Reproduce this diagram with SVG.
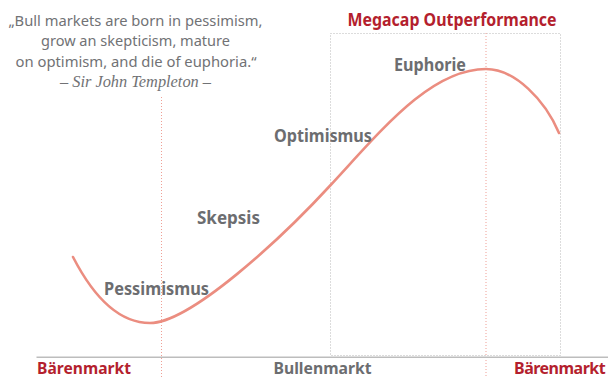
<svg xmlns="http://www.w3.org/2000/svg" width="608" height="378" viewBox="0 0 608 378">
  <style>
    .quote { font-family: "Noto Sans", "Open Sans", sans-serif; font-size: 15px; fill: #717275; text-anchor: middle; }
    .author { font-family: "Liberation Serif", serif; font-style: italic; font-size: 16px; fill: #717275; text-anchor: middle; }
    .phase { font-family: "Noto Sans", "Open Sans", sans-serif; font-weight: 700; font-size: 17px; fill: #6c6d70; }
    .bear { font-family: "Noto Sans", "Open Sans", sans-serif; font-weight: 700; font-size: 16.5px; fill: #b41f2e; }
    .bull { font-family: "Noto Sans", "Open Sans", sans-serif; font-weight: 700; font-size: 16.5px; fill: #6c6d70; }
    .title { font-family: "Noto Sans", "Open Sans", sans-serif; font-weight: 700; font-size: 17.5px; fill: #b41f2e; }
    .grid-red { stroke: #ef9f95; stroke-width: 1; stroke-dasharray: 1 2; fill: none; }
    .grid-gray { stroke: #b9b9b9; stroke-width: 1; stroke-dasharray: 1 2; fill: none; }
  </style>
  <rect width="608" height="378" fill="#ffffff"/>

  <!-- quote -->
  <g id="quote">
    <text class="quote" x="135.5" y="25.5" textLength="254" lengthAdjust="spacingAndGlyphs">„Bull markets are born in pessimism,</text>
    <text class="quote" x="135.5" y="46" textLength="189" lengthAdjust="spacingAndGlyphs">grow an skepticism, mature</text>
    <text class="quote" x="136" y="66.5" textLength="241" lengthAdjust="spacingAndGlyphs">on optimism, and die of euphoria.“</text>
    <text class="author" x="135.5" y="87" textLength="151" lengthAdjust="spacingAndGlyphs">– Sir John Templeton –</text>
  </g>

  <!-- outperformance window -->
  <g id="megacap-window">
    <rect class="grid-gray" x="330.5" y="33.5" width="230" height="322"/>
    <text class="title" x="347.5" y="25.5" textLength="209" lengthAdjust="spacingAndGlyphs">Megacap Outperformance</text>
  </g>

  <!-- phase boundaries -->
  <g id="boundaries">
    <line class="grid-red" x1="161.5" y1="97" x2="161.5" y2="378"/>
    <line class="grid-red" x1="486" y1="33" x2="486" y2="378"/>
  </g>

  <!-- time axis -->
  <line x1="36.5" y1="357.2" x2="608" y2="357.2" stroke="#bdbdbd" stroke-width="1.5"/>

  <!-- market cycle curve -->
  <g id="connectors">
    <path d="M73,257 C90,290 115,323 150,323 C190,323 280,240 330.7,185 C380,132 430,69 486,69 C515,69 545,100 559,133" fill="none" stroke="#eb8d80" stroke-width="2.6" stroke-linecap="round"/>
  </g>

  <!-- phase labels -->
  <g id="pessimismus"><text class="phase" x="104" y="295" textLength="105" lengthAdjust="spacingAndGlyphs">Pessimismus</text></g>
  <g id="skepsis"><text class="phase" x="197" y="224" textLength="63" lengthAdjust="spacingAndGlyphs">Skepsis</text></g>
  <g id="optimismus"><text class="phase" x="274" y="141.5" textLength="98" lengthAdjust="spacingAndGlyphs">Optimismus</text></g>
  <g id="euphorie"><text class="phase" x="394" y="70.7" textLength="72" lengthAdjust="spacingAndGlyphs">Euphorie</text></g>

  <!-- market regimes -->
  <g id="baerenmarkt-left"><text class="bear" x="37" y="373.5" textLength="94" lengthAdjust="spacingAndGlyphs">Bärenmarkt</text></g>
  <g id="bullenmarkt"><text class="bull" x="273.5" y="373.5" textLength="98" lengthAdjust="spacingAndGlyphs">Bullenmarkt</text></g>
  <g id="baerenmarkt-right"><text class="bear" x="514" y="373.5" style="font-size:16px; letter-spacing:-0.5px">Bärenmarkt</text></g>
</svg>
